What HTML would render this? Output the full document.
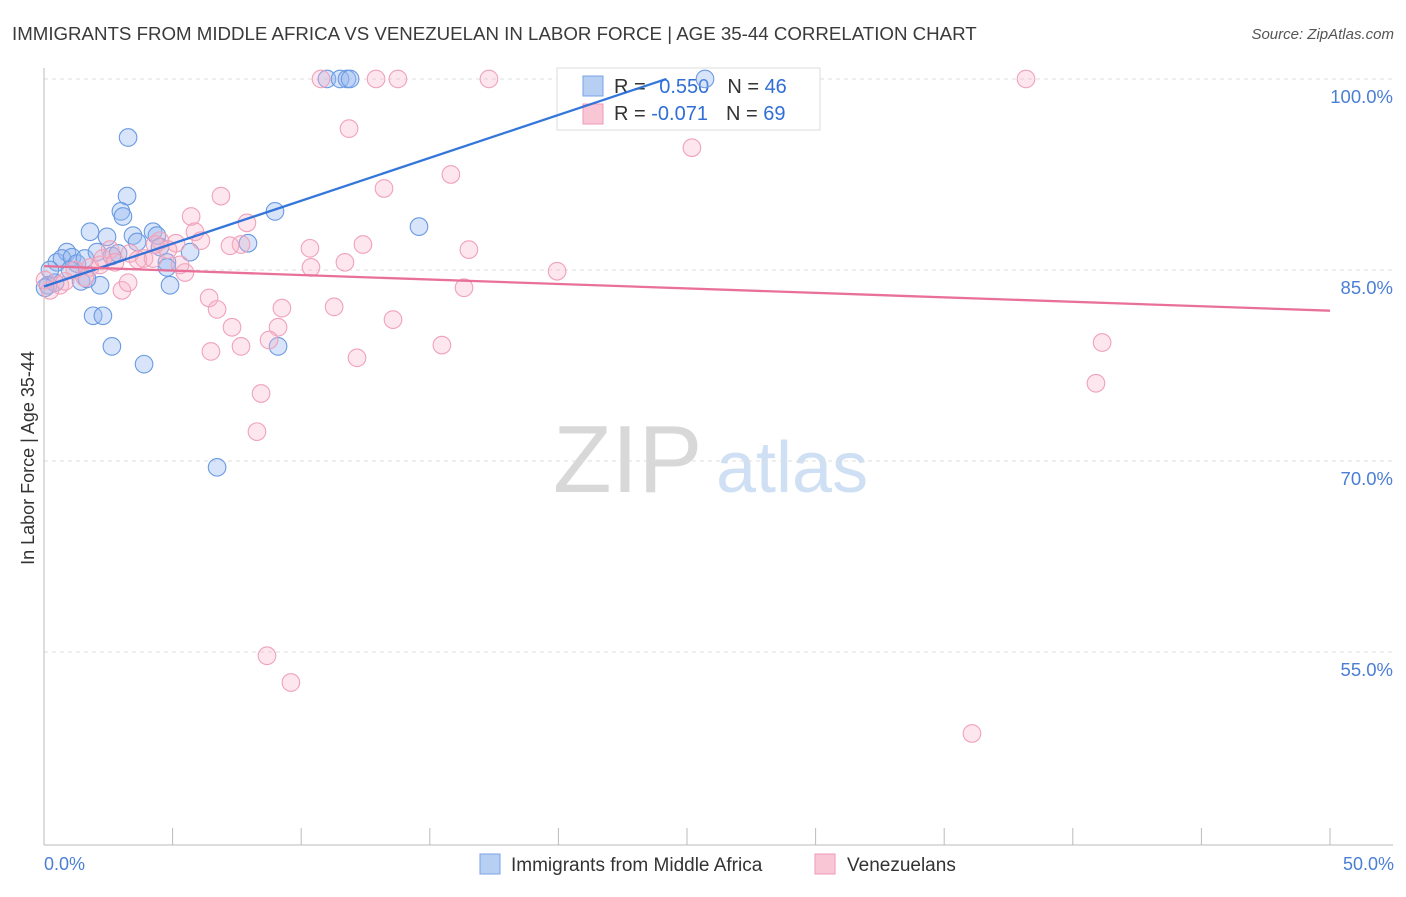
<!DOCTYPE html>
<html><head><meta charset="utf-8"><style>
body{margin:0;background:#fff;font-family:"Liberation Sans",sans-serif}
svg text{font-family:"Liberation Sans",sans-serif}
</style></head><body>
<svg id="chart" width="1406" height="892" xmlns="http://www.w3.org/2000/svg">
<text x="12" y="40" font-size="18.7" fill="#3a3a3a">IMMIGRANTS FROM MIDDLE AFRICA VS VENEZUELAN IN LABOR FORCE | AGE 35-44 CORRELATION CHART</text>
<text x="1394" y="39" font-size="15" fill="#555" font-style="italic" text-anchor="end">Source: ZipAtlas.com</text>
<g>
<text x="553" y="492" font-size="96" fill="#d8d8d8" font-family="Liberation Serif,serif">ZIP</text>
<text x="716" y="492" font-size="72" fill="#cfe0f4">atlas</text>
</g>
<g id="grid"></g>
<g id="axes"></g>
<g>
<rect x="557" y="68" width="263" height="62" fill="#fff" stroke="#ddd"/>
<rect x="583" y="76" width="20" height="20" fill="#b8cff4" stroke="#7aa3e6"/>
<rect x="583" y="104" width="20" height="20" fill="#f9c6d6" stroke="#ee99b4"/>
<text x="614" y="93" font-size="20" fill="#333">R = <tspan fill="#2f6fd6" dx="8">0.550</tspan><tspan dx="18" fill="#333">N = </tspan><tspan fill="#2f6fd6">46</tspan></text>
<text x="614" y="120" font-size="20" fill="#333">R = <tspan fill="#2f6fd6">-0.071</tspan><tspan dx="18" fill="#333">N = </tspan><tspan fill="#2f6fd6">69</tspan></text>
</g>
<g id="blue"></g>
<g id="pink"></g>
<g id="lines" opacity="0.95"></g>
<text transform="translate(34,458) rotate(-90)" font-size="18" fill="#333" text-anchor="middle">In Labor Force | Age 35-44</text>
<text x="44" y="870" font-size="18" fill="#4a7fd4">0.0%</text>
<text x="1394" y="870" font-size="18" fill="#4a7fd4" text-anchor="end">50.0%</text>
<g>
<rect x="480" y="854" width="20" height="20" fill="#b8cff4" stroke="#7aa3e6"/>
<text x="511" y="871" font-size="19" fill="#333">Immigrants from Middle Africa</text>
<rect x="815" y="854" width="20" height="20" fill="#f9c6d6" stroke="#ee99b4"/>
<text x="847" y="871" font-size="19" fill="#333">Venezuelans</text>
</g>
</svg>
<script>
const yTicks=[100,85,70,55];
const yTickLabels=["100.0%","85.0%","70.0%","55.0%"];
const xTicks=[0,5,10,15,20,25,30,35,40,45,50];
const blueX=[0.5,0.89,0.7,1.09,1.28,1.59,1.79,2.06,2.45,2.64,2.88,3.27,3.23,2.99,3.07,3.46,3.62,4.24,4.39,4.51,4.78,4.9,5.68,4.78,7.93,8.98,9.1,6.73,3.89,2.64,1.91,2.29,2.18,1.44,1.67,0.23,0.16,0.43,0.04,11.0,11.51,11.78,11.9,14.58,25.7,1.01];
const blueY=[85.6,86.4,85.9,86.0,85.5,85.9,88.0,86.4,87.6,86.1,86.3,95.4,90.8,89.6,89.2,87.7,87.2,88.0,87.7,86.8,85.6,83.8,86.4,85.2,87.1,89.6,79.0,69.5,77.6,79.0,81.4,81.4,83.8,84.1,84.3,85.0,83.8,84.0,83.6,100,100,100,100,88.4,100,85.0];
const pinkX=[10.77,12.91,13.76,17.3,38.18,11.86,25.19,15.82,13.22,6.88,5.72,7.89,5.87,6.1,5.13,7.66,10.34,12.4,16.52,3.89,3.65,2.57,4.24,5.48,10.38,11.7,19.95,16.33,3.03,3.27,6.42,6.73,9.25,11.28,13.57,7.31,9.1,8.75,7.66,6.49,12.17,15.47,8.44,8.28,41.14,40.9,8.67,9.6,36.08,2.18,1.79,1.2,0.62,0.23,0.82,4.51,4.82,3.34,2.29,2.76,5.29,7.23,4.32,1.59,0.04];
const pinkY=[100,100,100,100,100,96.1,94.6,92.5,91.4,90.8,89.2,88.7,88.0,87.3,87.1,87.0,86.7,87.0,86.6,85.9,85.8,86.6,85.9,84.8,85.2,85.6,84.9,83.6,83.4,84.0,82.8,81.9,82.0,82.1,81.1,80.5,80.5,79.5,79.0,78.6,78.1,79.1,75.3,72.3,79.3,76.1,54.7,52.6,48.6,85.4,85.2,85.0,83.8,83.4,84.1,87.3,86.6,86.3,85.9,85.6,85.4,86.9,87.0,84.4,84.2];
const blueTrend=[[0,83.7],[24.2,100]];
const pinkTrend=[[0,85.3],[50,81.8]];
const X=v=>44+v/50*1286;
const Y=v=>845-(v-39.84)/(100.86-39.84)*777;
const NS="http://www.w3.org/2000/svg";
function mk(tag,attrs,parent){const e=document.createElementNS(NS,tag);for(const k in attrs)e.setAttribute(k,attrs[k]);document.getElementById(parent).appendChild(e);return e;}
yTicks.forEach((t,i)=>{
 const g=mk('line',{x1:44,x2:1393,y1:Y(t),y2:Y(t),stroke:'#ddd','stroke-dasharray':'4,4'},'grid');
 
 
 const l=mk('text',{x:1393,y:Y(t)+24,'font-size':18.5,fill:'#4a7fd4','text-anchor':'end'},'grid');
 
 
 l.textContent=yTickLabels[i];
});
const ax=mk('line',{x1:44,x2:44,y1:68,y2:845,stroke:'#bbb'},'axes');


const bx=mk('line',{x1:44,x2:1393,y1:845,y2:845,stroke:'#bbb'},'axes');


xTicks.forEach(t=>{
 const k=mk('line',{x1:X(t),x2:X(t),y1:828,y2:845,stroke:'#bbb'},'axes');
 
 
});
blueX.forEach((v,i)=>{
 const c=mk('circle',{cx:X(v),cy:Y(blueY[i]),r:8.8,fill:'rgba(150,185,240,0.38)',stroke:'#6a9ae2','stroke-width':1.1},'blue');
 
 
});
pinkX.forEach((v,i)=>{
 const c=mk('circle',{cx:X(v),cy:Y(pinkY[i]),r:8.8,fill:'rgba(248,180,200,0.33)',stroke:'#f0a2ba','stroke-width':1.1},'pink');
 
 
});
const bl=mk('line',{x1:X(blueTrend[0][0]),y1:Y(blueTrend[0][1]),x2:X(blueTrend[1][0]),y2:Y(blueTrend[1][1]),stroke:'#2a6fd8','stroke-width':2.3},'lines');


const pl=mk('line',{x1:X(pinkTrend[0][0]),y1:Y(pinkTrend[0][1]),x2:X(pinkTrend[1][0]),y2:Y(pinkTrend[1][1]),stroke:'#e86a94','stroke-width':2.3},'lines');


</script>
</body></html>
